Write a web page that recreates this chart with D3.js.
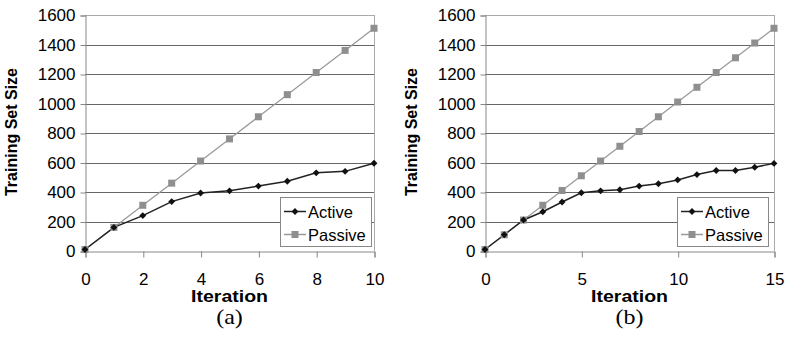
<!DOCTYPE html>
<html>
<head>
<meta charset="utf-8">
<script src="https://cdn.jsdelivr.net/npm/d3@7"></script>
<style>
  body { margin: 0; background: #fff; }
  text { font-family: "Liberation Sans", Arial, sans-serif; }
</style>
</head>
<body>
<svg id="chart" width="785" height="337"></svg>
<script>
// panel (a)
const iterA = [0, 1, 2, 3, 4, 5, 6, 7, 8, 9, 10];
const activeA = [10, 160, 240, 335, 393, 408, 440, 473, 530, 540, 595];
const passiveA = [10, 160, 310, 460, 610, 760, 910, 1060, 1210, 1360, 1510];
const xTicksA = [0, 2, 4, 6, 8, 10];

// panel (b)
const iterB = [0, 1, 2, 3, 4, 5, 6, 7, 8, 9, 10, 11, 12, 13, 14, 15];
const activeB = [10, 110, 210, 266, 332, 395, 408, 415, 440, 456, 482, 518, 546, 546, 568, 594];
const passiveB = [10, 110, 210, 310, 410, 510, 610, 710, 810, 910, 1010, 1110, 1210, 1310, 1410, 1510];
const xTicksB = [0, 5, 10, 15];

const yTicks = [0, 200, 400, 600, 800, 1000, 1200, 1400, 1600];
const seriesNames = ['Active', 'Passive'];

const svg = d3.select('#chart');

function panel(opts) {
  const g = svg.append('g');
  const x = d3.scaleLinear().domain([0, opts.iter[opts.iter.length - 1]]).range([opts.x0, opts.x1]);
  const y = d3.scaleLinear().domain([0, 1600]).range([251, 15]);
  const xc = (opts.x0 + opts.x1) / 2;

  // grid
  g.append('g')
    .selectAll('line')
    .data(yTicks.slice(1))
    .enter()
    .append('line')
    .attr('x1', opts.x0)
    .attr('x2', opts.x1)
    .attr('y1', d => Math.round(y(d)) + 0.5)
    .attr('y2', d => Math.round(y(d)) + 0.5)
    .attr('stroke', d => d === 1600 ? '#aaa' : '#666')
    .attr('stroke-width', 1);

  // right border
  g.append('line')
    .attr('x1', opts.x1 + 0.5).attr('x2', opts.x1 + 0.5)
    .attr('y1', y(1600)).attr('y2', y(0))
    .attr('stroke', '#aaa');

  // y axis
  const yAxis = g.append('g')
    .attr('transform', 'translate(' + (opts.x0 + 0.5) + ',0.5)')
    .call(d3.axisLeft(y).tickValues(yTicks).tickFormat(d3.format('d'))
      .tickSizeOuter(0).tickSize(5).tickPadding(5));
  yAxis.select('.domain').attr('stroke', '#888');
  yAxis.selectAll('.tick line').attr('stroke', '#888');
  yAxis.selectAll('text')
    .attr('font-size', 17)
    .attr('font-family', '"Liberation Sans", Arial, sans-serif')
    .attr('fill', '#000');

  // x axis
  const xAxis = g.append('g')
    .attr('transform', 'translate(0.5,' + (y(0) + 0.5) + ')')
    .call(d3.axisBottom(x).tickValues(opts.ticks).tickSizeOuter(0).tickSize(6).tickPadding(15));
  xAxis.select('.domain').attr('stroke', '#888');
  xAxis.selectAll('.tick line').attr('stroke', '#888');
  xAxis.selectAll('text')
    .attr('font-size', 17)
    .attr('font-family', '"Liberation Sans", Arial, sans-serif')
    .attr('fill', '#000');

  // lines
  const line = d3.line()
    .x((d, i) => x(opts.iter[i]))
    .y(d => y(d));

  g.append('path')
    .datum(opts.passive)
    .attr('d', line)
    .attr('fill', 'none')
    .attr('stroke', '#9a9a9a')
    .attr('stroke-width', 1.3);

  g.append('path')
    .datum(opts.active)
    .attr('d', line)
    .attr('fill', 'none')
    .attr('stroke', '#222')
    .attr('stroke-width', 1.5);

  g.append('g')
    .selectAll('rect')
    .data(opts.passive)
    .enter()
    .append('rect')
    .attr('x', (d, i) => x(opts.iter[i]) - 3.5)
    .attr('y', d => y(d) - 3.5)
    .attr('width', 7)
    .attr('height', 7)
    .attr('fill', '#8f8f8f');

  const diamond = d3.symbol().type(d3.symbolDiamond2).size(30);
  g.append('g')
    .selectAll('path')
    .data(opts.active)
    .enter()
    .append('path')
    .attr('d', diamond)
    .attr('transform', (d, i) => 'translate(' + x(opts.iter[i]) + ',' + y(d) + ')')
    .attr('fill', '#111');

  // axis titles
  g.append('text')
    .attr('transform', 'translate(' + (opts.x0 - 68) + ',132) rotate(-90)')
    .attr('text-anchor', 'middle')
    .attr('font-size', 16)
    .attr('font-weight', 'bold')
    .text('Training Set Size');

  // the scan is a bit wider than tall, so stretch these two
  g.append('text')
    .attr('transform', 'translate(' + xc + ',302) scale(1.22,1)')
    .attr('text-anchor', 'middle')
    .attr('font-size', 16)
    .attr('font-weight', 'bold')
    .text('Iteration');

  g.append('text')
    .attr('transform', 'translate(' + xc + ',324) scale(1.2,1)')
    .attr('text-anchor', 'middle')
    .attr('font-size', 20)
    .style('font-family', '"Liberation Serif", "Times New Roman", serif')
    .text(opts.label);

  // legend
  const lg = g.append('g').attr('transform', 'translate(' + opts.legX + ',197)');
  lg.append('rect')
    .attr('x', 0.5).attr('y', 0.5)
    .attr('width', 91).attr('height', 49)
    .attr('fill', '#fff')
    .attr('stroke', '#888');
  seriesNames.forEach((name, i) => {
    const cy = 14.5 + i * 23;
    lg.append('line')
      .attr('x1', 4).attr('x2', 26)
      .attr('y1', cy).attr('y2', cy)
      .attr('stroke', i === 0 ? '#222' : '#9a9a9a')
      .attr('stroke-width', 1.5);
    if (i === 0) {
      lg.append('path')
        .attr('d', diamond)
        .attr('transform', 'translate(15,' + cy + ')')
        .attr('fill', '#111');
    } else {
      lg.append('rect')
        .attr('x', 11.5).attr('y', cy - 3.5)
        .attr('width', 7).attr('height', 7)
        .attr('fill', '#8f8f8f');
    }
    lg.append('text')
      .attr('x', 28)
      .attr('y', cy + 6)
      .attr('font-size', 16.5)
      .text(name);
  });
}

panel({ iter: iterA, active: activeA, passive: passiveA, ticks: xTicksA,
  x0: 85, x1: 374, label: '(a)', legX: 280 });
panel({ iter: iterB, active: activeB, passive: passiveB, ticks: xTicksB,
  x0: 485, x1: 774, label: '(b)', legX: 677 });
</script>
</body>
</html>
